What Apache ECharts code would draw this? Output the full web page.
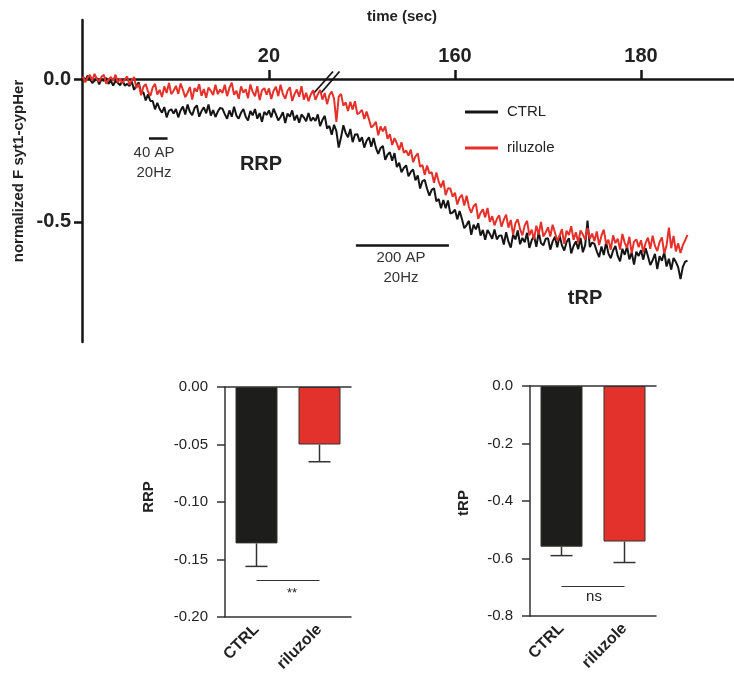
<!DOCTYPE html>
<html>
<head>
<meta charset="utf-8">
<script src="https://cdn.jsdelivr.net/npm/echarts@6/dist/echarts.min.js"></script>
<style>html,body{margin:0;padding:0;background:#fff}#c{width:734px;height:680px}</style>
</head>
<body>
<div id="c"></div>
<script>
// ---------- data ----------
// trace sampling on the displayed (broken) time axis, seconds
const tStep = 0.25;
const breakAt = 25.6;     // displayed time where the axis is broken
const breakGap = 120;     // seconds skipped by the break
const timeTicks = [20, 40, 60];   // displayed positions of the tick labels (20, 160, 180 s)
const fTicks = [0, -0.5];

const ctrlTrace = [
 0.009,-0.006,0.012,0.000,-0.014,-0.006,0.003,-0.019,0.000,-0.007,0.004,-0.017,-0.006,-0.023,-0.007,-0.013,-0.022,-0.005,-0.023,-0.017,
 -0.025,-0.009,-0.038,-0.022,-0.012,-0.048,-0.046,-0.075,-0.054,-0.077,-0.077,-0.106,-0.083,-0.105,-0.118,-0.098,-0.134,-0.111,-0.106,-0.121,
 -0.105,-0.134,-0.110,-0.096,-0.124,-0.089,-0.115,-0.127,-0.102,-0.092,-0.132,-0.112,-0.099,-0.120,-0.089,-0.128,-0.109,-0.133,-0.114,-0.101,
 -0.104,-0.123,-0.139,-0.110,-0.132,-0.097,-0.128,-0.139,-0.118,-0.105,-0.132,-0.145,-0.112,-0.127,-0.105,-0.139,-0.119,-0.150,-0.115,-0.126,
 -0.110,-0.134,-0.104,-0.124,-0.145,-0.133,-0.116,-0.154,-0.121,-0.132,-0.110,-0.145,-0.126,-0.153,-0.124,-0.134,-0.148,-0.119,-0.147,-0.135,
 -0.147,-0.124,-0.165,-0.143,-0.129,-0.173,-0.164,-0.195,-0.160,-0.182,-0.240,-0.204,-0.162,-0.189,-0.204,-0.175,-0.221,-0.194,-0.193,-0.219,
 -0.204,-0.240,-0.216,-0.204,-0.237,-0.206,-0.241,-0.262,-0.241,-0.234,-0.283,-0.265,-0.256,-0.286,-0.259,-0.308,-0.293,-0.326,-0.311,-0.302,
 -0.340,-0.325,-0.316,-0.354,-0.337,-0.383,-0.357,-0.353,-0.384,-0.408,-0.388,-0.382,-0.428,-0.420,-0.452,-0.423,-0.452,-0.425,-0.471,-0.467,
 -0.457,-0.491,-0.462,-0.490,-0.522,-0.511,-0.496,-0.545,-0.510,-0.526,-0.504,-0.548,-0.528,-0.562,-0.528,-0.542,-0.559,-0.526,-0.561,-0.548,
 -0.547,-0.579,-0.536,-0.569,-0.590,-0.545,-0.561,-0.530,-0.578,-0.556,-0.571,-0.538,-0.591,-0.564,-0.548,-0.587,-0.536,-0.574,-0.582,-0.559,
 -0.557,-0.597,-0.568,-0.552,-0.589,-0.547,-0.582,-0.600,-0.570,-0.557,-0.610,-0.584,-0.568,-0.595,-0.556,-0.606,-0.581,-0.495,-0.588,-0.572,
 -0.577,-0.603,-0.623,-0.586,-0.616,-0.571,-0.611,-0.627,-0.600,-0.584,-0.619,-0.638,-0.594,-0.615,-0.586,-0.631,-0.607,-0.649,-0.604,-0.619,
 -0.599,-0.632,-0.592,-0.620,-0.651,-0.634,-0.612,-0.665,-0.620,-0.636,-0.606,-0.656,-0.629,-0.667,-0.626,-0.640,-0.659,-0.700,-0.657,-0.639,-0.635
];
const riluzoleTrace = [
 0.009,-0.012,0.005,0.014,-0.006,0.018,0.000,-0.009,0.008,0.015,-0.017,-0.002,0.007,-0.007,0.015,-0.012,0.002,-0.015,-0.001,0.009,
 -0.020,-0.004,0.007,-0.032,-0.017,-0.057,-0.027,-0.018,-0.044,-0.059,-0.030,-0.017,-0.054,-0.038,-0.063,-0.026,-0.049,-0.014,-0.053,-0.041,
 -0.024,-0.052,-0.016,-0.038,-0.064,-0.048,-0.028,-0.072,-0.032,-0.044,-0.018,-0.059,-0.035,-0.066,-0.030,-0.041,-0.056,-0.020,-0.053,-0.037,
 -0.049,-0.020,-0.060,-0.031,-0.013,-0.055,-0.041,-0.069,-0.026,-0.048,-0.036,-0.067,-0.019,-0.045,-0.060,-0.025,-0.074,-0.039,-0.032,-0.055,
 -0.033,-0.070,-0.041,-0.027,-0.060,-0.020,-0.053,-0.069,-0.041,-0.029,-0.077,-0.053,-0.037,-0.062,-0.025,-0.072,-0.048,-0.078,-0.054,-0.039,
 -0.073,-0.054,-0.038,-0.072,-0.049,-0.088,-0.056,-0.044,-0.069,-0.150,-0.062,-0.052,-0.093,-0.082,-0.112,-0.080,-0.107,-0.078,-0.123,-0.118,
 -0.108,-0.140,-0.114,-0.141,-0.170,-0.162,-0.150,-0.197,-0.166,-0.183,-0.166,-0.209,-0.193,-0.231,-0.207,-0.225,-0.248,-0.221,-0.258,-0.250,
 -0.268,-0.247,-0.291,-0.271,-0.260,-0.307,-0.301,-0.335,-0.303,-0.330,-0.326,-0.363,-0.327,-0.359,-0.379,-0.355,-0.406,-0.382,-0.383,-0.412,
 -0.398,-0.439,-0.415,-0.405,-0.443,-0.408,-0.447,-0.468,-0.445,-0.436,-0.489,-0.468,-0.456,-0.484,-0.451,-0.500,-0.480,-0.512,-0.490,-0.477,
 -0.517,-0.492,-0.475,-0.520,-0.493,-0.545,-0.505,-0.491,-0.525,-0.547,-0.512,-0.496,-0.547,-0.527,-0.561,-0.513,-0.544,-0.500,-0.551,-0.537,
 -0.519,-0.551,-0.510,-0.537,-0.566,-0.549,-0.525,-0.577,-0.531,-0.546,-0.515,-0.563,-0.536,-0.572,-0.530,-0.544,-0.562,-0.521,-0.559,-0.541,
 -0.567,-0.533,-0.581,-0.548,-0.527,-0.577,-0.562,-0.597,-0.547,-0.574,-0.559,-0.597,-0.542,-0.573,-0.591,-0.552,-0.609,-0.569,-0.561,-0.588,
 -0.564,-0.606,-0.573,-0.555,-0.594,-0.548,-0.584,-0.602,-0.570,-0.554,-0.610,-0.582,-0.520,-0.592,-0.549,-0.603,-0.575,-0.609,-0.581,-0.564,-0.545
];

// stimulation trains (real seconds)
const stimStart = [7.1, 149.35];
const stimDuration = [2, 10];

// bar charts
const groups = ['CTRL', 'riluzole'];
const rrpMean = [-0.136, -0.050];
const rrpSem  = [0.020, 0.015];
const trpMean = [-0.559, -0.541];
const trpSem  = [0.031, 0.073];
const rrpTicks = [-0.20, -0.15, -0.10, -0.05, 0.00];
const trpTicks = [-0.8, -0.6, -0.4, -0.2, 0.0];

// ---------- chart ----------
const FONT = 'Liberation Sans, Arial, Helvetica, sans-serif';
const BLACK = '#151515', RED = '#e6312a';
const BAR_BLACK = '#1d1d1b', BAR_RED = '#e3322b';
const toDisplay = t => (t > breakAt ? t - breakGap : t);
const toReal = d => (d > breakAt ? d + breakGap : d);

const ctrlData = ctrlTrace.map((v, i) => [i * tStep, v]);
const rilData = riluzoleTrace.map((v, i) => [i * tStep, v]);
const stimLevels = [-0.206, -0.58];
const stimLines = stimStart.map((s, i) => [
  { coord: [toDisplay(s), stimLevels[i]] },
  { coord: [toDisplay(s + stimDuration[i]), stimLevels[i]] }
]);

function barAxes(gridIndex, ticks, digits) {
  const axisCol = '#333';
  return {
    x: [{
      type: 'category', gridIndex, data: groups, position: 'bottom',
      axisLine: { onZero: false, lineStyle: { color: axisCol, width: 1.5 } },
      axisTick: { alignWithLabel: true, length: 8, lineStyle: { color: axisCol, width: 1.5 } },
      axisLabel: { rotate: 45, margin: 10, fontSize: 16, fontWeight: 'bold', color: '#222', fontFamily: FONT }
    }, {
      type: 'category', gridIndex, data: groups, position: 'top',
      axisLine: { onZero: false, lineStyle: { color: axisCol, width: 1.5 } },
      axisTick: { show: false }, axisLabel: { show: false }
    }],
    y: {
      type: 'value', gridIndex, min: ticks[0], max: ticks[ticks.length - 1],
      interval: ticks[1] - ticks[0],
      axisLine: { show: true, onZero: false, lineStyle: { color: axisCol, width: 1.5 } },
      axisTick: { show: true, length: 8, lineStyle: { color: axisCol, width: 1.5 } },
      splitLine: { show: false },
      axisLabel: { margin: 17, fontSize: 15, color: '#222', fontFamily: FONT,
        formatter: v => v.toFixed(digits) }
    }
  };
}
const rrpAx = barAxes(1, rrpTicks, 2);
const trpAx = barAxes(2, trpTicks, 1);

function errRender(params, api) {
  const i = api.value(0);
  const p1 = api.coord([i, api.value(1)]);
  const p2 = api.coord([i, api.value(2)]);
  const hw = 11;
  const st = { stroke: '#333', lineWidth: 1.5 };
  return { type: 'group', children: [
    { type: 'line', shape: { x1: p1[0], y1: p1[1], x2: p2[0], y2: p2[1] }, style: st },
    { type: 'line', shape: { x1: p2[0] - hw, y1: p2[1], x2: p2[0] + hw, y2: p2[1] }, style: st }
  ]};
}
function barSeries(xi, yi, mean, sem, sigY) {
  return [{
    type: 'bar', xAxisIndex: xi, yAxisIndex: yi, barWidth: 42,
    data: mean.map((v, i) => ({ value: v, itemStyle: { color: i === 0 ? BAR_BLACK : BAR_RED } })),
    itemStyle: { borderColor: '#333', borderWidth: 1 },
    markLine: { symbol: 'none', silent: true, label: { show: false },
      lineStyle: { color: '#333', width: 1, type: 'solid' },
      data: [[{ coord: [groups[0], sigY] }, { coord: [groups[1], sigY] }]] }
  }, {
    type: 'custom', xAxisIndex: xi, yAxisIndex: yi, renderItem: errRender, z: 5,
    data: mean.map((v, i) => [i, v, v - sem[i]])
  }];
}

const text = (t, x, y, size, weight, opts = {}) => Object.assign({
  type: 'text', x, y,
  style: { text: t, fill: '#222', fontSize: size, fontWeight: weight, fontFamily: FONT,
    textAlign: 'center', textVerticalAlign: 'middle', lineHeight: size + 4 }
}, opts);

const option = {
  animation: false,
  textStyle: { fontFamily: FONT },
  grid: [
    { left: 82, top: 79, width: 652, height: 263, outerBoundsMode: 'none' },
    { left: 225, top: 387, width: 126, height: 230, outerBoundsMode: 'none' },
    { left: 530, top: 386, width: 126, height: 230, outerBoundsMode: 'none' },
    { left: 82, top: 20, width: 20, height: 59, outerBoundsMode: 'none' }
  ],
  legend: {
    data: ['CTRL', 'riluzole'], orient: 'vertical', left: 460, top: 99,
    icon: 'rect', itemWidth: 33, itemHeight: 3, itemGap: 20,
    textStyle: { fontSize: 15, color: '#222', lineHeight: 16, padding: [0, 0, 0, 4], fontFamily: FONT }
  },
  xAxis: [{
    type: 'value', gridIndex: 0, min: -0.1, max: 70, position: 'top',
    axisLine: { onZero: false, lineStyle: { color: BLACK, width: 2.5 } },
    axisTick: { show: true, length: 9, customValues: timeTicks, lineStyle: { color: BLACK, width: 2.5 } },
    axisLabel: { customValues: timeTicks, margin: 13, fontSize: 20, fontWeight: 'bold', color: '#222',
      formatter: v => String(Math.round(toReal(v))) },
    splitLine: { show: false }
  }, rrpAx.x[0], rrpAx.x[1], trpAx.x[0], trpAx.x[1],
  { type: 'value', gridIndex: 3, show: false }],
  yAxis: [{
    type: 'value', gridIndex: 0, min: -0.92, max: 0,
    axisLine: { show: true, onZero: false, lineStyle: { color: BLACK, width: 2.5 } },
    axisTick: { show: true, length: 8, customValues: fTicks, lineStyle: { color: BLACK, width: 2.5 } },
    axisLabel: { customValues: fTicks, margin: 11, fontSize: 20, fontWeight: 'bold', color: '#222',
      formatter: v => v.toFixed(1) },
    splitLine: { show: false }
  }, rrpAx.y, trpAx.y,
  { type: 'value', gridIndex: 3, min: 0, max: 0.2,
    axisLine: { show: true, onZero: false, lineStyle: { color: BLACK, width: 2.5 } },
    axisTick: { show: false }, axisLabel: { show: false }, splitLine: { show: false } }],
  series: [
    { name: 'CTRL', type: 'line', xAxisIndex: 0, yAxisIndex: 0, data: ctrlData, showSymbol: false, clip: false,
      lineStyle: { color: BLACK, width: 2 }, itemStyle: { color: BLACK } },
    { name: 'riluzole', type: 'line', xAxisIndex: 0, yAxisIndex: 0, data: rilData, showSymbol: false, clip: false,
      lineStyle: { color: RED, width: 2 }, itemStyle: { color: RED } },
    { name: 'stim', type: 'line', xAxisIndex: 0, yAxisIndex: 0, data: [],
      markLine: { symbol: 'none', silent: true, label: { show: false },
        lineStyle: { color: BLACK, width: 2.5, type: 'solid' }, data: stimLines } },
    ...barSeries(1, 1, rrpMean, rrpSem, -0.168),
    ...barSeries(3, 2, trpMean, trpSem, -0.695)
  ],
  graphic: [
    text('time (sec)', 402, 17, 15, 'bold'),
    text('normalized F syt1-cypHer', 19, 171, 15, 'bold', { rotation: Math.PI / 2 }),
    { type: 'text', x: 154, y: 163, style: { text: '40 AP\n20Hz', fill: '#333', fontSize: 15, fontFamily: FONT, textAlign: 'center', textVerticalAlign: 'middle', lineHeight: 20 } },
    text('RRP', 261, 164, 20, 'bold'),
    { type: 'text', x: 401, y: 268, style: { text: '200 AP\n20Hz', fill: '#333', fontSize: 15, fontFamily: FONT, textAlign: 'center', textVerticalAlign: 'middle', lineHeight: 20 } },
    text('tRP', 585, 298, 20, 'bold'),
    { type: 'line', shape: { x1: 313, y1: 94, x2: 333, y2: 71.5 }, style: { stroke: BLACK, lineWidth: 1.8 } },
    { type: 'line', shape: { x1: 320.5, y1: 93.5, x2: 339.5, y2: 71.5 }, style: { stroke: BLACK, lineWidth: 1.8 } },
    text('RRP', 149, 497, 15, 'bold', { rotation: Math.PI / 2 }),
    text('tRP', 464, 503, 15, 'bold', { rotation: Math.PI / 2 }),
    text('**', 292, 593, 13, 'normal'),
    text('ns', 594, 597, 15, 'normal')
  ]
};

const chart = echarts.init(document.getElementById('c'), null, { renderer: 'canvas' });
chart.setOption(option);
</script>
</body>
</html>
